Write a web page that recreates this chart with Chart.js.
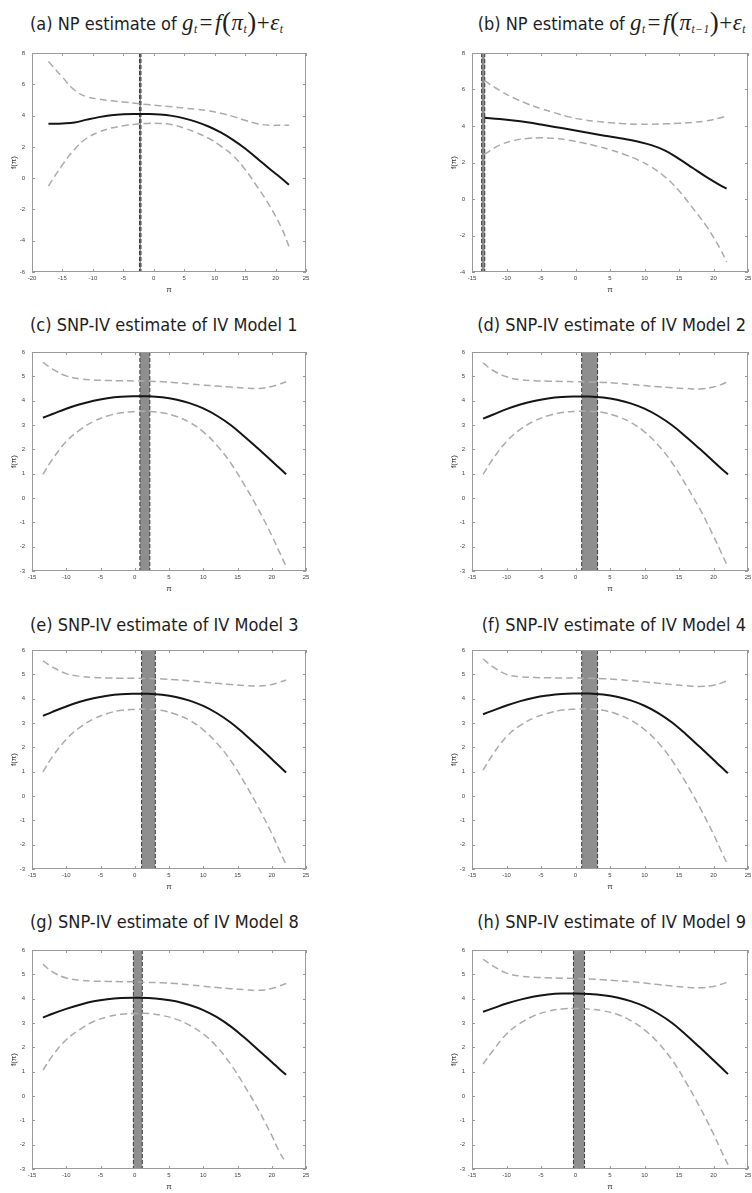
<!DOCTYPE html>
<html>
<head>
<meta charset="utf-8">
<script src="https://cdn.jsdelivr.net/npm/chart.js@4.4.1/dist/chart.umd.min.js"></script>
<style>
    html, body { margin: 0; padding: 0; background: #fff; }
    #page { position: relative; width: 752px; height: 1193px; overflow: hidden; }
    canvas { position: absolute; }
    .title {
        position: absolute;
        white-space: nowrap;
        font-family: 'Liberation Sans Narrow', 'DejaVu Sans Condensed', Roboto, sans-serif;
        font-size: 18px;
        line-height: 22px;
        color: #1e1e1e;
    }
    .title.right { right: 6px; text-align: right; }
    .title.left { left: 30px; }
    .math { font-family: 'Liberation Serif', 'DejaVu Serif', serif; font-size: 23px; letter-spacing: 0.5px; }
    .math i { font-style: italic; }
    .math sub { font-size: 50%; font-style: italic; vertical-align: -0.3em; line-height: 0; }
    .math .op { padding: 0 2px; }
    .math .paren { font-size: 27px; vertical-align: -1px; }
</style>
</head>
<body>
<div id="page">
    <div class="title left" style="top:11px">(a) NP estimate of <span class="math"><i>g</i><sub>t</sub><span class="op">=</span><i>f</i><span class="paren">(</span><i>π</i><sub>t</sub><span class="paren">)</span>+<i>ε</i><sub>t</sub></span></div>
    <div class="title right" style="top:11px">(b) NP estimate of <span class="math"><i>g</i><sub>t</sub><span class="op">=</span><i>f</i><span class="paren">(</span><i>π</i><sub>t−1</sub><span class="paren">)</span>+<i>ε</i><sub>t</sub></span></div>
    <div class="title left" style="top:314px">(c) SNP-IV estimate of IV Model 1</div>
    <div class="title right" style="top:314px">(d) SNP-IV estimate of IV Model 2</div>
    <div class="title left" style="top:614px">(e) SNP-IV estimate of IV Model 3</div>
    <div class="title right" style="top:614px">(f) SNP-IV estimate of IV Model 4</div>
    <div class="title left" style="top:911px">(g) SNP-IV estimate of IV Model 8</div>
    <div class="title right" style="top:911px">(h) SNP-IV estimate of IV Model 9</div>

    <canvas id="chartA" width="312" height="249" style="left:0px;top:47px"></canvas>
    <canvas id="chartB" width="312" height="249" style="left:440px;top:47px"></canvas>
    <canvas id="chartC" width="312" height="249" style="left:0px;top:346px"></canvas>
    <canvas id="chartD" width="312" height="249" style="left:440px;top:346px"></canvas>
    <canvas id="chartE" width="312" height="249" style="left:0px;top:644px"></canvas>
    <canvas id="chartF" width="312" height="249" style="left:440px;top:644px"></canvas>
    <canvas id="chartG" width="312" height="249" style="left:0px;top:944px"></canvas>
    <canvas id="chartH" width="312" height="249" style="left:440px;top:944px"></canvas>
</div>
<script>
// ---- (a) NP estimate, contemporaneous inflation ----
const xA     = [-17.3, -15, -13, -11, -9, -7, -5, -3, -1, 1, 3, 5, 7, 9, 11, 13, 15, 17, 19, 21, 22.2];
const fitA   = [3.47, 3.5, 3.56, 3.74, 3.9, 4.02, 4.08, 4.1, 4.1, 4.07, 3.98, 3.82, 3.6, 3.3, 2.92, 2.45, 1.9, 1.25, 0.6, -0.02, -0.42];
const upperA = [7.45, 6.45, 5.62, 5.2, 5.05, 4.95, 4.87, 4.78, 4.7, 4.63, 4.56, 4.48, 4.4, 4.3, 4.15, 3.95, 3.7, 3.48, 3.38, 3.38, 3.38];
const lowerA = [-0.5, 0.85, 1.85, 2.55, 2.95, 3.2, 3.35, 3.45, 3.5, 3.5, 3.42, 3.2, 2.9, 2.55, 2.05, 1.45, 0.55, -0.55, -1.75, -3.2, -4.35];
const bandA  = [-2.35, -2.1];

// ---- (b) NP estimate, lagged inflation ----
const xB     = [-13.2, -11, -9, -7, -5, -3, -1, 1, 3, 5, 7, 9, 11, 13, 15, 17, 19, 21, 21.9];
const fitB   = [4.45, 4.38, 4.3, 4.2, 4.08, 3.95, 3.82, 3.68, 3.55, 3.42, 3.3, 3.15, 2.95, 2.65, 2.2, 1.7, 1.2, 0.75, 0.57];
const upperB = [6.48, 5.95, 5.55, 5.22, 4.95, 4.72, 4.5, 4.35, 4.25, 4.18, 4.13, 4.1, 4.1, 4.12, 4.15, 4.2, 4.28, 4.45, 4.55];
const lowerB = [2.45, 2.95, 3.2, 3.32, 3.35, 3.32, 3.22, 3.08, 2.9, 2.7, 2.45, 2.15, 1.75, 1.2, 0.45, -0.5, -1.5, -2.75, -3.45];
const bandB  = [-13.6, -13.15];

// ---- (c)-(h) SNP-IV estimates, shared inflation grid ----
const xIV = [-13.4, -12, -10, -8, -6, -4, -2, 0, 2, 4, 6, 8, 10, 12, 14, 16, 18, 20, 21, 22.1];

const fitC   = [3.3, 3.45, 3.67, 3.85, 4.0, 4.1, 4.16, 4.18, 4.18, 4.14, 4.05, 3.9, 3.68, 3.38, 3.0, 2.53, 2.03, 1.52, 1.26, 0.98];
const upperC = [5.57, 5.3, 5.02, 4.9, 4.85, 4.83, 4.82, 4.81, 4.8, 4.78, 4.74, 4.69, 4.64, 4.6, 4.56, 4.52, 4.5, 4.58, 4.67, 4.78];
const lowerC = [0.97, 1.6, 2.32, 2.8, 3.15, 3.37, 3.5, 3.55, 3.56, 3.5, 3.36, 3.11, 2.72, 2.16, 1.44, 0.54, -0.44, -1.54, -2.15, -2.82];
const bandC  = [0.75, 2.2];

const fitD   = [3.26, 3.42, 3.65, 3.84, 3.99, 4.09, 4.15, 4.17, 4.17, 4.13, 4.04, 3.89, 3.67, 3.37, 2.99, 2.52, 2.02, 1.5, 1.24, 0.97];
const upperD = [5.55, 5.25, 4.98, 4.86, 4.82, 4.8, 4.79, 4.78, 4.77, 4.75, 4.72, 4.67, 4.62, 4.57, 4.53, 4.5, 4.48, 4.56, 4.65, 4.79];
const lowerD = [0.97, 1.59, 2.32, 2.82, 3.16, 3.38, 3.51, 3.56, 3.57, 3.51, 3.36, 3.11, 2.72, 2.17, 1.45, 0.54, -0.44, -1.56, -2.17, -2.84];
const bandD  = [0.9, 3.2];

const fitE   = [3.29, 3.46, 3.68, 3.87, 4.02, 4.12, 4.18, 4.2, 4.2, 4.16, 4.07, 3.92, 3.7, 3.4, 3.02, 2.55, 2.04, 1.52, 1.25, 0.97];
const upperE = [5.55, 5.3, 5.03, 4.92, 4.87, 4.85, 4.84, 4.84, 4.83, 4.81, 4.78, 4.73, 4.68, 4.63, 4.58, 4.54, 4.52, 4.58, 4.66, 4.77];
const lowerE = [0.99, 1.62, 2.33, 2.82, 3.17, 3.39, 3.52, 3.56, 3.57, 3.51, 3.36, 3.11, 2.72, 2.17, 1.46, 0.56, -0.44, -1.54, -2.16, -2.83];
const bandE  = [1.0, 3.0];

const fitF   = [3.36, 3.51, 3.72, 3.9, 4.04, 4.13, 4.19, 4.21, 4.21, 4.17, 4.08, 3.93, 3.71, 3.41, 3.02, 2.54, 2.02, 1.49, 1.22, 0.94];
const upperF = [5.63, 5.32, 5.0, 4.9, 4.87, 4.86, 4.85, 4.85, 4.84, 4.82, 4.79, 4.74, 4.69, 4.63, 4.58, 4.53, 4.5, 4.55, 4.63, 4.75];
const lowerF = [1.06, 1.7, 2.44, 2.9, 3.21, 3.4, 3.53, 3.57, 3.58, 3.52, 3.37, 3.12, 2.73, 2.19, 1.46, 0.55, -0.46, -1.57, -2.19, -2.86];
const bandF  = [0.9, 3.2];

const fitG   = [3.22, 3.38, 3.58, 3.75, 3.89, 3.98, 4.03, 4.04, 4.03, 3.98, 3.89, 3.74, 3.53, 3.24, 2.86, 2.4, 1.9, 1.4, 1.14, 0.87];
const upperG = [5.41, 5.1, 4.85, 4.76, 4.72, 4.71, 4.7, 4.69, 4.67, 4.65, 4.62, 4.57, 4.51, 4.46, 4.41, 4.37, 4.34, 4.42, 4.51, 4.62];
const lowerG = [1.06, 1.66, 2.31, 2.74, 3.06, 3.25, 3.36, 3.39, 3.39, 3.31, 3.16, 2.91, 2.55, 2.02, 1.31, 0.43, -0.54, -1.62, -2.23, -2.75];
const bandG  = [-0.2, 1.1];

const fitH   = [3.46, 3.6, 3.8, 3.96, 4.09, 4.17, 4.21, 4.21, 4.19, 4.14, 4.05, 3.9, 3.68, 3.38, 3.0, 2.52, 2.0, 1.47, 1.2, 0.9];
const upperH = [5.62, 5.35, 5.05, 4.93, 4.88, 4.86, 4.84, 4.83, 4.81, 4.78, 4.74, 4.7, 4.64, 4.58, 4.52, 4.47, 4.45, 4.5, 4.58, 4.69];
const lowerH = [1.31, 1.85, 2.55, 2.99, 3.3, 3.48, 3.58, 3.6, 3.57, 3.5, 3.36, 3.1, 2.72, 2.18, 1.48, 0.57, -0.45, -1.56, -2.18, -2.82];
const bandH  = [-0.3, 1.3];

// axis ranges
const xRangeA = [-20, 25];
const xRangeIV = [-15, 25];
const yRangeA = [-6, 8];
const yRangeB = [-4, 8];
const yRangeIV = [-3, 6];

const panels = [
    { id: 'chartA', x: xA,  fit: fitA, upper: upperA, lower: lowerA, band: bandA, xr: xRangeA,  yr: yRangeA,  ys: 2, padRight: 6 },
    { id: 'chartB', x: xB,  fit: fitB, upper: upperB, lower: lowerB, band: bandB, xr: xRangeIV, yr: yRangeB,  ys: 2, padRight: 4 },
    { id: 'chartC', x: xIV, fit: fitC, upper: upperC, lower: lowerC, band: bandC, xr: xRangeIV, yr: yRangeIV, ys: 1, padRight: 6 },
    { id: 'chartD', x: xIV, fit: fitD, upper: upperD, lower: lowerD, band: bandD, xr: xRangeIV, yr: yRangeIV, ys: 1, padRight: 4 },
    { id: 'chartE', x: xIV, fit: fitE, upper: upperE, lower: lowerE, band: bandE, xr: xRangeIV, yr: yRangeIV, ys: 1, padRight: 6 },
    { id: 'chartF', x: xIV, fit: fitF, upper: upperF, lower: lowerF, band: bandF, xr: xRangeIV, yr: yRangeIV, ys: 1, padRight: 4 },
    { id: 'chartG', x: xIV, fit: fitG, upper: upperG, lower: lowerG, band: bandG, xr: xRangeIV, yr: yRangeIV, ys: 1, padRight: 6 },
    { id: 'chartH', x: xIV, fit: fitH, upper: upperH, lower: lowerH, band: bandH, xr: xRangeIV, yr: yRangeIV, ys: 1, padRight: 4 }
];

// Shaded vertical band (drawn under the curves)
const bandPlugin = {
    id: 'band',
    beforeDatasetsDraw(chart, args, opts) {
        if (!opts.range) return;
        const { ctx, chartArea: a, scales: { x } } = chart;
        const x0 = x.getPixelForValue(opts.range[0]);
        const x1 = x.getPixelForValue(opts.range[1]);
        ctx.save();
        ctx.fillStyle = '#8e8e8e';
        ctx.fillRect(x0, a.top, x1 - x0, a.bottom - a.top);
        ctx.strokeStyle = '#3a3a3a';
        ctx.lineWidth = 1;
        ctx.setLineDash([4, 2]);
        [x0, x1].forEach(px => {
            ctx.beginPath();
            ctx.moveTo(px, a.top);
            ctx.lineTo(px, a.bottom);
            ctx.stroke();
        });
        ctx.restore();
    }
};

// MATLAB-like box with inward tick marks on all sides
const framePlugin = {
    id: 'frame',
    afterDatasetsDraw(chart) {
        const { ctx, chartArea: a, scales: { x, y } } = chart;
        const len = 3;
        ctx.save();
        ctx.strokeStyle = '#9a9a9a';
        ctx.lineWidth = 1;
        ctx.strokeRect(a.left + 0.5, a.top + 0.5, a.right - a.left - 1, a.bottom - a.top - 1);
        ctx.beginPath();
        x.ticks.forEach(t => {
            const px = Math.round(x.getPixelForValue(t.value)) + 0.5;
            ctx.moveTo(px, a.bottom); ctx.lineTo(px, a.bottom - len);
            ctx.moveTo(px, a.top); ctx.lineTo(px, a.top + len);
        });
        y.ticks.forEach(t => {
            const py = Math.round(y.getPixelForValue(t.value)) + 0.5;
            ctx.moveTo(a.left, py); ctx.lineTo(a.left + len, py);
            ctx.moveTo(a.right, py); ctx.lineTo(a.right - len, py);
        });
        ctx.stroke();
        ctx.restore();
    }
};

const tickFont = { family: "'Liberation Sans', Arial, sans-serif", size: 6 };
const titleFont = { family: "'Liberation Sans', Arial, sans-serif", size: 8 };

function toPoints(xs, ys) {
    return xs.map((v, i) => ({ x: v, y: ys[i] }));
}

/**
 * Build one panel chart
 * @param {Object} p - panel definition
 */
function renderPanel(p) {
    const ctx = document.getElementById(p.id).getContext('2d');
    const dashed = {
        borderColor: '#ababab',
        borderWidth: 1.5,
        borderDash: [7, 4],
        pointRadius: 0,
        tension: 0.4
    };
    return new Chart(ctx, {
        type: 'line',
        data: {
            datasets: [
                Object.assign({ label: 'upper', data: toPoints(p.x, p.upper) }, dashed),
                Object.assign({ label: 'lower', data: toPoints(p.x, p.lower) }, dashed),
                {
                    label: 'estimate',
                    data: toPoints(p.x, p.fit),
                    borderColor: '#151515',
                    borderWidth: 2,
                    pointRadius: 0,
                    tension: 0.4
                }
            ]
        },
        options: {
            responsive: false,
            animation: false,
            devicePixelRatio: 1,
            layout: { padding: { top: 6, right: p.padRight, left: 0, bottom: 0 } },
            plugins: {
                legend: { display: false },
                tooltip: { enabled: false },
                band: { range: p.band }
            },
            scales: {
                x: {
                    type: 'linear',
                    min: p.xr[0],
                    max: p.xr[1],
                    grid: { display: false, drawTicks: false },
                    border: { display: false },
                    ticks: { stepSize: 5, font: tickFont, color: '#444', padding: 3, maxRotation: 0, autoSkip: false },
                    title: { display: true, text: 'π', font: titleFont, color: '#333', padding: { top: 0, bottom: 1 } },
                    afterFit(scale) {
                        scale.height = 24;
                        scale.paddingLeft = 0;
                        scale.paddingRight = 0;
                    }
                },
                y: {
                    type: 'linear',
                    min: p.yr[0],
                    max: p.yr[1],
                    grid: { display: false, drawTicks: false },
                    border: { display: false },
                    ticks: { stepSize: p.ys, font: tickFont, color: '#444', padding: 7 },
                    title: { display: true, text: 'f(π)', font: titleFont, color: '#333', padding: { top: 9, bottom: 0 } },
                    afterFit(scale) {
                        scale.width = 32;
                        scale.paddingTop = 0;
                        scale.paddingBottom = 0;
                    }
                }
            }
        },
        plugins: [bandPlugin, framePlugin]
    });
}

panels.forEach(renderPanel);
</script>
</body>
</html>
